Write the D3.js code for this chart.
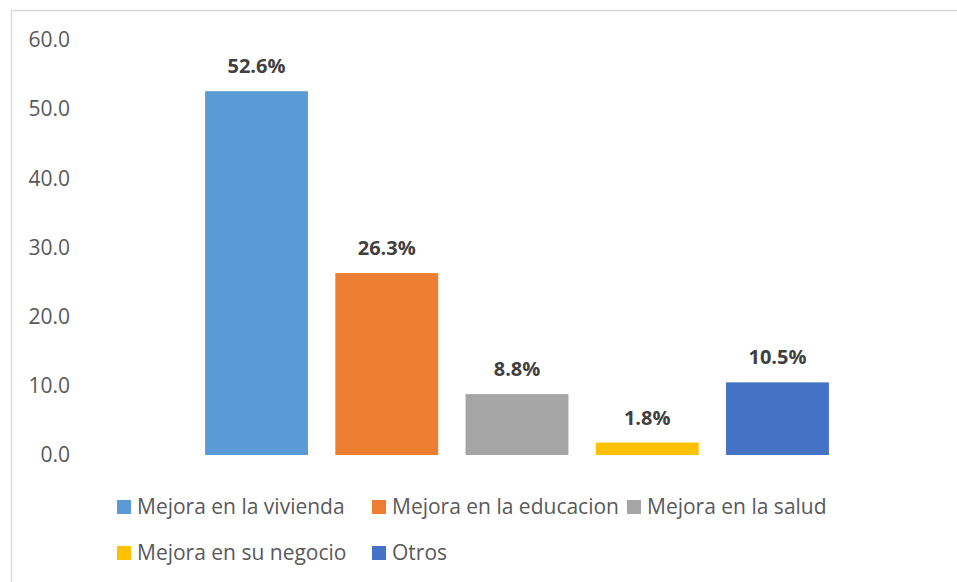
<!doctype html>
<html>
<head>
<meta charset="utf-8">
<title>Mejora</title>
<script src="https://d3js.org/d3.v7.min.js"></script>
<style>
  body { margin: 0; background: #fff; }
  text { font-family: "Open Sans", sans-serif; }
</style>
</head>
<body>
<script>
const categories = ["Mejora en la vivienda", "Mejora en la educacion", "Mejora en la salud", "Mejora en su negocio", "Otros"];
const values = [52.6, 26.3, 8.8, 1.8, 10.5];
const colors = ["#5B9BD5", "#ED7D31", "#A5A5A5", "#FFC000", "#4472C4"];
const yTicks = [0, 10, 20, 30, 40, 50, 60];

const w = 957, h = 582;

const svg = d3.select("body").append("svg")
  .attr("width", w)
  .attr("height", h);

// chart frame
svg.append("rect")
  .attr("x", 11.5).attr("y", 10.5)
  .attr("width", w + 20).attr("height", h + 20)
  .attr("fill", "none")
  .attr("stroke", "#D9D9D9")
  .attr("stroke-width", 1.5);

const x = d3.scaleBand()
  .domain(categories)
  .range([191.4, 842.6])
  .paddingInner(0.21)
  .paddingOuter(0.105);

const y = d3.scaleLinear()
  .domain([0, 60])
  .range([455, 40]);

// y axis labels only
const yAxis = svg.append("g")
  .attr("transform", "translate(70,0)")
  .call(d3.axisLeft(y).tickValues(yTicks).tickFormat(d3.format(".1f")).tickSize(0).tickPadding(0));
yAxis.select(".domain").remove();
yAxis.selectAll("text")
  .attr("fill", "#595959")
  .style("font-size", "21px")
  .style("font-family", "'Open Sans', sans-serif");

svg.selectAll("rect.bar")
  .data(values)
  .enter()
  .append("rect")
  .attr("class", "bar")
  .attr("x", (d, i) => x(categories[i]))
  .attr("y", d => y(d))
  .attr("width", x.bandwidth())
  .attr("height", d => y(0) - y(d))
  .attr("fill", (d, i) => colors[i]);

svg.selectAll("text.lbl")
  .data(values)
  .enter()
  .append("text")
  .attr("class", "lbl")
  .attr("x", (d, i) => x(categories[i]) + x.bandwidth() / 2)
  .attr("y", d => y(d) - 18)
  .attr("text-anchor", "middle")
  .attr("fill", "#404040")
  .style("font-size", "20px")
  .style("font-weight", "bold")
  .text(d => d.toFixed(1) + "%");

// legend, 3 columns
const legend = svg.selectAll("g.leg")
  .data(categories)
  .enter()
  .append("g")
  .attr("class", "leg")
  .attr("transform", (d, i) => "translate(" + (117 + (i % 3) * 255) + "," + (500 + Math.floor(i / 3) * 46) + ")");

legend.append("rect")
  .attr("width", 14).attr("height", 14)
  .attr("fill", (d, i) => colors[i]);

legend.append("text")
  .attr("x", 20)
  .attr("y", 14)
  .attr("fill", "#595959")
  .style("font-size", "21px")
  .text(d => d);
</script>
</body>
</html>
